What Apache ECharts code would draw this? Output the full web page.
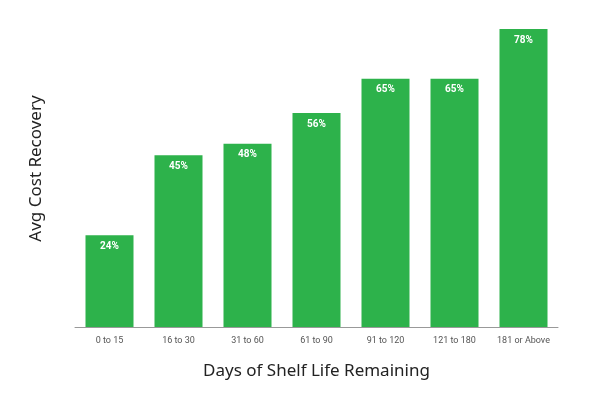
<!DOCTYPE html>
<html>
<head>
<meta charset="utf-8">
<script src="https://cdn.jsdelivr.net/npm/echarts@6/dist/echarts.min.js"></script>
<style>html,body{margin:0;background:#fff}#main{width:600px;height:400px}</style>
</head>
<body>
<div id="main"></div>
<script>
var categories = ['0 to 15', '16 to 30', '31 to 60', '61 to 90', '91 to 120', '121 to 180', '181 or Above'];
var recovery = [24, 45, 48, 56, 65, 65, 78];

var chart = echarts.init(document.getElementById('main'));
chart.setOption({
    animation: false,
    grid: { left: 75, right: 42, top: 10, bottom: 73 },
    xAxis: {
        type: 'category',
        data: categories,
        name: 'Days of Shelf Life Remaining',
        nameLocation: 'middle',
        nameGap: 36,
        nameTextStyle: { fontFamily: 'Noto Sans', fontSize: 17, color: '#222' },
        axisTick: { show: false },
        axisLine: { lineStyle: { color: '#999' } },
        axisLabel: { fontFamily: 'Roboto', fontSize: 9, color: '#555', margin: 9 }
    },
    yAxis: {
        type: 'value',
        min: 0,
        max: 83,
        name: 'Avg Cost Recovery',
        nameLocation: 'middle',
        nameGap: 30,
        nameTextStyle: { fontFamily: 'Noto Sans', fontSize: 17, color: '#222' },
        axisLine: { show: false },
        axisTick: { show: false },
        axisLabel: { show: false },
        splitLine: { show: false }
    },
    series: [{
        type: 'bar',
        data: recovery,
        barWidth: 48,
        itemStyle: { color: '#2db24b' },
        label: {
            show: true,
            position: 'insideTop',
            distance: 6,
            formatter: '{c}%',
            color: '#fff',
            fontWeight: 'bold',
            fontSize: 10,
            fontFamily: 'Roboto'
        }
    }]
});
</script>
</body>
</html>
